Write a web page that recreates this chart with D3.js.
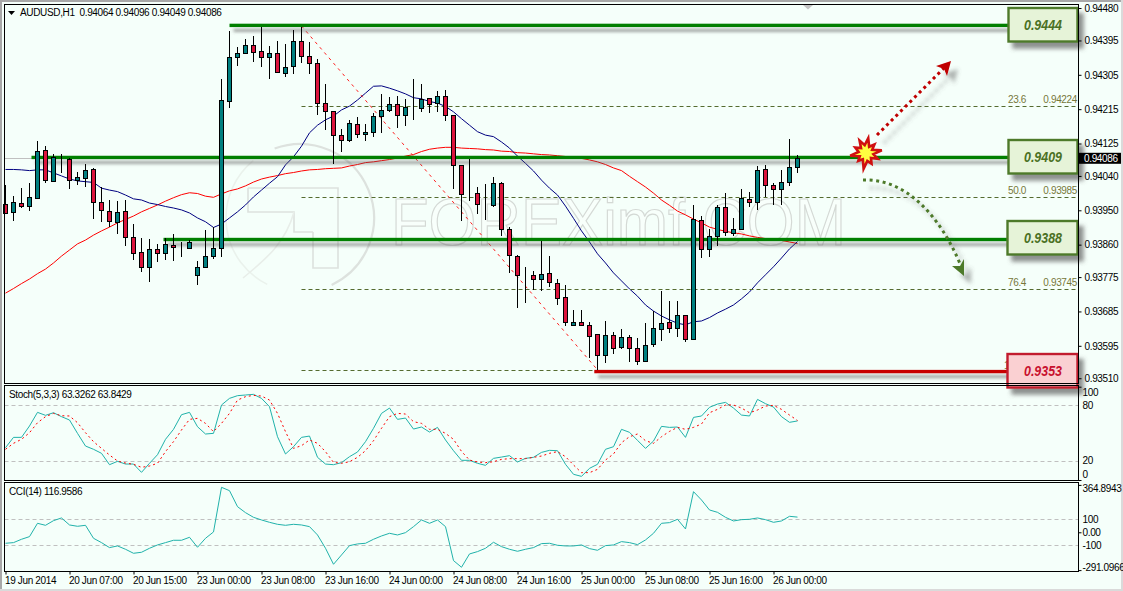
<!DOCTYPE html>
<html><head><meta charset="utf-8">
<script src="https://cdn.jsdelivr.net/npm/d3@7"></script>
<style>
html,body{margin:0;padding:0;background:#F5FFFA;overflow:hidden}
svg{display:block}
text{font-family:"Liberation Sans",Arial,sans-serif;font-size:10px;letter-spacing:-0.35px;fill:#000}
.domain{display:none}
</style></head><body>
<script>
const symbolTitle = "AUDUSD,H1  0.94064 0.94096 0.94049 0.94086";
const stochTitle = "Stoch(5,3,3) 63.3262 63.8429";
const cciTitle = "CCI(14) 116.9586";
const open = [0.93966,0.93945,0.93968,0.93962,0.93983,0.94107,0.94027,0.94084,0.94084,0.94030,
0.94035,0.94057,0.93971,0.93947,0.93919,0.93947,0.93879,0.93840,0.93801,0.93848,
0.93837,0.93858,0.93853,0.93850,0.93780,0.93801,0.93830,0.93850,0.94236,0.94351,
0.94361,0.94382,0.94367,0.94351,0.94361,0.94309,0.94327,0.94393,0.94353,0.94335,
0.94230,0.94209,0.94146,0.94133,0.94175,0.94149,0.94154,0.94196,0.94212,0.94228,
0.94199,0.94218,0.94217,0.94243,0.94230,0.94249,0.94199,0.94068,0.93992,0.93995,
0.93963,0.93963,0.94021,0.93900,0.93830,0.93780,0.93780,0.93769,0.93785,0.93759,
0.93722,0.93649,0.93658,0.93649,0.93625,0.93570,0.93622,0.93591,0.93617,0.93588,
0.93554,0.93599,0.93638,0.93657,0.93641,0.93675,0.93612,0.93924,0.93848,0.93882,
0.93958,0.93890,0.93900,0.93979,0.93971,0.94057,0.94016,0.94005,0.94023,0.94064];
const close = [0.93944,0.93971,0.93962,0.93984,0.94105,0.94029,0.94090,0.94084,0.94030,0.94037,
0.94055,0.93971,0.93950,0.93921,0.93945,0.93879,0.93837,0.93801,0.93848,0.93837,
0.93861,0.93853,0.93853,0.93866,0.93801,0.93830,0.93850,0.94238,0.94351,0.94361,
0.94382,0.94364,0.94351,0.94361,0.94312,0.94325,0.94393,0.94353,0.94335,0.94230,
0.94209,0.94146,0.94133,0.94178,0.94149,0.94154,0.94196,0.94212,0.94228,0.94199,
0.94220,0.94218,0.94241,0.94228,0.94249,0.94199,0.94068,0.93992,0.93992,0.93966,
0.93963,0.94021,0.93900,0.93832,0.93780,0.93780,0.93769,0.93782,0.93761,0.93719,
0.93657,0.93657,0.93650,0.93620,0.93570,0.93622,0.93588,0.93617,0.93588,0.93554,
0.93596,0.93641,0.93654,0.93641,0.93675,0.93612,0.93926,0.93848,0.93882,0.93958,
0.93892,0.93900,0.93981,0.93971,0.94055,0.94016,0.94005,0.94023,0.94063,0.94086];
const high = [0.94016,0.93987,0.94008,0.94021,0.94131,0.94118,0.94098,0.94098,0.94087,0.94050,
0.94071,0.94060,0.94012,0.93977,0.93975,0.93977,0.93913,0.93877,0.93875,0.93861,
0.93877,0.93887,0.93866,0.93872,0.93817,0.93898,0.93905,0.94294,0.94420,0.94378,
0.94398,0.94406,0.94431,0.94380,0.94393,0.94385,0.94422,0.94431,0.94391,0.94346,
0.94281,0.94210,0.94162,0.94187,0.94195,0.94175,0.94205,0.94255,0.94246,0.94249,
0.94241,0.94293,0.94280,0.94243,0.94262,0.94264,0.94200,0.94069,0.94084,0.94010,
0.94018,0.94036,0.94023,0.93905,0.93832,0.93801,0.93790,0.93869,0.93830,0.93769,
0.93753,0.93689,0.93689,0.93657,0.93626,0.93660,0.93630,0.93638,0.93622,0.93615,
0.93654,0.93686,0.93739,0.93712,0.93712,0.93676,0.93964,0.93934,0.93900,0.93963,
0.93995,0.93929,0.94005,0.93997,0.94065,0.94068,0.94021,0.94056,0.94136,0.94096];
const low = [0.93942,0.93923,0.93957,0.93948,0.93980,0.94022,0.94025,0.94049,0.94007,0.94016,
0.94012,0.93928,0.93919,0.93907,0.93888,0.93857,0.93821,0.93789,0.93763,0.93815,
0.93821,0.93818,0.93828,0.93850,0.93755,0.93798,0.93822,0.93828,0.94219,0.94329,
0.94359,0.94339,0.94326,0.94295,0.94309,0.94300,0.94308,0.94336,0.94307,0.94200,
0.94160,0.94071,0.94103,0.94130,0.94140,0.94132,0.94143,0.94153,0.94208,0.94166,
0.94172,0.94187,0.94208,0.94204,0.94207,0.94183,0.94006,0.93922,0.93974,0.93940,
0.93925,0.93959,0.93883,0.93786,0.93695,0.93706,0.93741,0.93739,0.93748,0.93701,
0.93648,0.93649,0.93647,0.93562,0.93532,0.93551,0.93573,0.93587,0.93553,0.93545,
0.93554,0.93591,0.93608,0.93628,0.93617,0.93604,0.93612,0.93826,0.93828,0.93857,
0.93882,0.93882,0.93898,0.93958,0.93951,0.93984,0.93965,0.93965,0.94013,0.94049];
const maBlue = [0.94057,0.94057,0.94056,0.94054,0.94056,0.94056,0.94048,0.94040,0.94032,0.94027,
0.94025,0.94023,0.94008,0.94003,0.93999,0.93990,0.93980,0.93977,0.93969,0.93965,
0.93960,0.93956,0.93951,0.93943,0.93930,0.93920,0.93905,0.93914,0.93930,0.93946,
0.93964,0.93985,0.94003,0.94021,0.94038,0.94069,0.94090,0.94118,0.94153,0.94173,
0.94187,0.94197,0.94213,0.94223,0.94239,0.94257,0.94275,0.94276,0.94270,0.94263,
0.94255,0.94245,0.94242,0.94235,0.94231,0.94222,0.94208,0.94190,0.94173,0.94156,
0.94147,0.94143,0.94129,0.94113,0.94092,0.94073,0.94053,0.94029,0.94008,0.93990,
0.93961,0.93929,0.93896,0.93867,0.93836,0.93812,0.93786,0.93765,0.93744,0.93725,
0.93702,0.93686,0.93673,0.93663,0.93654,0.93650,0.93658,0.93660,0.93669,0.93681,
0.93691,0.93702,0.93718,0.93736,0.93760,0.93781,0.93802,0.93825,0.93849,0.93868];
const maRed = [0.93733,0.93745,0.93758,0.93770,0.93784,0.93796,0.93812,0.93830,0.93846,0.93862,
0.93872,0.93885,0.93896,0.93906,0.93917,0.93926,0.93935,0.93946,0.93955,0.93964,
0.93974,0.93983,0.93991,0.93996,0.93994,0.93987,0.93984,0.93993,0.94001,0.94006,
0.94014,0.94024,0.94032,0.94037,0.94041,0.94046,0.94049,0.94053,0.94056,0.94057,
0.94059,0.94060,0.94061,0.94066,0.94070,0.94075,0.94077,0.94080,0.94083,0.94087,
0.94092,0.94096,0.94104,0.94110,0.94113,0.94115,0.94115,0.94113,0.94112,0.94111,
0.94109,0.94108,0.94105,0.94104,0.94101,0.94100,0.94098,0.94096,0.94095,0.94093,
0.94091,0.94088,0.94086,0.94082,0.94077,0.94070,0.94061,0.94054,0.94039,0.94025,
0.94011,0.93995,0.93977,0.93963,0.93948,0.93938,0.93927,0.93917,0.93906,0.93900,
0.93895,0.93891,0.93888,0.93883,0.93879,0.93876,0.93874,0.93871,0.93867,0.93863];
const stochMain = [34.6,45.7,45.7,57.9,72.5,69.3,72.1,67.9,64.3,50,
36.4,32.9,28.6,16.4,20,17.1,17.1,8.2,17.9,27.1,
43.6,54.3,70,72.5,57.1,49.3,50,80.4,87.5,90.4,
91.1,91.8,87.5,78.6,46.4,27.9,35.7,45.7,47.1,24.3,
17.1,16.4,18.6,25,30,41.1,55.4,71.4,77.1,65,
66.4,54.6,56.8,51.4,56.4,42.9,31.4,21.1,21.1,17.9,
15.7,23.2,24.6,26.1,19.3,23.2,24.3,29.6,31.8,31.4,
16.8,6.1,3.9,12.5,16.8,32.9,35.7,54.3,51.1,42.5,
33.9,41.8,57.5,56.4,56.8,45.7,67.1,68.6,77.9,81.4,
83.2,77.1,69.6,68.6,86.4,81.8,78.2,67.9,61.8,63.3];
const stochSignal = [32.9,39.3,43.6,50.7,61.4,67.9,71.4,68.9,68.6,61.4,
50.7,41.1,33.9,26.8,20.4,18.2,16.8,13.6,15,17.9,
30.4,41.1,53.6,65,66.1,60.7,51.8,60.7,71.4,85.7,
89.3,90.7,90,85.7,71.4,51.8,33.9,36.8,42.9,39.3,
30.4,18.9,17.9,19.6,24.3,31.4,42.1,55.4,67.9,71.4,
70.7,62.5,60.7,54.3,54.3,50,43.6,30.7,21.4,19.3,
18.6,19.6,22.1,22.9,22.9,22.9,24.3,25.7,28.6,30.4,
25,16.1,7.9,7.9,11.4,21.4,27.9,40,46.4,49.3,
42.1,39.3,46.4,52.1,56.4,54.3,56.4,60,72.1,75.7,
80.4,80.4,77.1,72.1,75,79.3,80,75.7,69.6,63.8];
const cci = [-84.6,-79.5,-53.8,-33.3,69.2,53.8,89.7,110.3,56.4,46.2,
53.8,-46.2,-79.5,-117.9,-105.1,-130.8,-161.5,-153.8,-123.1,-97.4,
-79.5,-61.5,-61.5,-38.5,-115.4,-46.2,2.6,346.2,320.5,197.4,
151.3,115.4,94.9,76.9,61.5,53.8,61.5,56.4,43.6,-20.5,
-123.1,-246.2,-174.4,-102.6,-89.7,-84.6,-53.8,-28.2,-7.7,-20.5,
-2.6,43.6,94.9,69.2,94.9,43.6,-217.9,-269.2,-166.7,-148.7,
-123.1,-76.9,-110.3,-130.8,-146.2,-130.8,-117.9,-87.2,-84.6,-100,
-105.1,-105.1,-97.4,-125.6,-138.5,-102.6,-97.4,-71.8,-79.5,-94.9,
-59,-7.7,69.2,74.4,100,25.6,312.8,248.7,171.8,153.8,
115.4,87.2,97.4,100,110.3,97.4,76.9,87.2,123.1,117];
const timeLabels = ["19 Jun 2014","20 Jun 07:00","20 Jun 15:00","23 Jun 00:00","23 Jun 08:00","23 Jun 16:00","24 Jun 00:00","24 Jun 08:00","24 Jun 16:00","25 Jun 00:00","25 Jun 08:00","25 Jun 16:00","26 Jun 00:00"];
const priceTicks = [0.94480,0.94395,0.94305,0.94215,0.94125,0.94040,0.93950,0.93860,0.93775,0.93685,0.93595,0.93510];
const lastPrice = 0.94086;
const fibPct = ["23.6","50.0","76.4"];
const fibValue = [0.94224,0.93985,0.93745];
const fibLinePrice = [0.94224,0.93985,0.93745,0.93532];
const fibTrendPrice = [0.94433,0.93532];
const fibTrendBar = [37,74];
const levelLabel = ["0.9444","0.9409","0.9388","0.9353"];
const levelPrice = [0.94435,0.94089,0.93874,0.93528];
const levelStartBar = [28,3.25,19.75,73.6];
const stochTicks = [100,80,20,0];
const cciTicks = [364.8943,100,0,-100,-291.0966];

const W=1123,H=591, L=4.5,R=1078.5;
const svg=d3.select("body").append("svg").attr("width",W).attr("height",H);
const defs=svg.append("defs");
function shadow(id,dx,dy,blur,op){
  defs.append("filter").attr("id",id).attr("filterUnits","userSpaceOnUse").attr("x",0).attr("y",0).attr("width",W).attr("height",H)
   .append("feDropShadow").attr("dx",dx).attr("dy",dy).attr("stdDeviation",blur).attr("flood-color","#555").attr("flood-opacity",op);
}
shadow("sLine",4,5,1.4,0.5); shadow("sBox",5,6,2.2,0.65); shadow("sArrow",7,8,2.2,0.45);

const x=d3.scaleLinear().domain([0,99]).range([5.5,797.5]);
const y=d3.scaleLinear().domain([0.94501,0.93510]).range([0,378.24]);
const yS=d3.scaleLinear().domain([0,100]).range([480,386.7]);
const yC=d3.scaleLinear().domain([-291.0966,364.8943]).range([570.1,484.9]);
const idx=d3.range(open.length);
const crisp=v=>Math.round(v)+0.5;

// window frame
svg.append("rect").attr("width",W).attr("height",H).attr("fill","#F5FFFA");
svg.append("rect").attr("x",0).attr("y",0).attr("width",W).attr("height",2).attr("fill","#A8A8A8");
svg.append("rect").attr("x",0).attr("y",0).attr("width",2).attr("height",H).attr("fill","#A8A8A8");
svg.append("rect").attr("x",0).attr("y",589).attr("width",W).attr("height",2).attr("fill","#DADADA");
svg.append("rect").attr("x",1121).attr("y",0).attr("width",2).attr("height",H).attr("fill","#DADADA");

// watermark
const wm=svg.append("g").attr("fill","none").attr("stroke","#DDE2DE").attr("stroke-width",1.6);
wm.append("path").attr("d",d3.arc()({innerRadius:74,outerRadius:74,startAngle:-0.35,endAngle:2.7})).attr("transform","translate(300,218)").attr("stroke-width",2.2);
wm.append("path").attr("d",d3.arc()({innerRadius:74,outerRadius:74,startAngle:3.6,endAngle:5.6})).attr("transform","translate(300,218)").attr("stroke","#EAF2EC");
wm.append("path").attr("d","M248,188H338V268H313V232M248,188V212H294V232H313");
wm.append("path").attr("d","M243,278C262,262 285,245 294,212").attr("stroke","#E8EEE9");
svg.append("text").attr("x",391).attr("y",245).attr("textLength",455).attr("lengthAdjust","spacingAndGlyphs")
  .style("font-size","66px").style("letter-spacing","0").style("fill","#F8FFFB").style("stroke","#D4D9D5").style("stroke-width","1.2px").text("FOREXimf.COM");

// panels
const panelFrame=[[4,383],[385,480],[482,571]];

// moving averages
const maLine=d3.line().x((d,i)=>x(i)).y(d=>y(d));
svg.append("path").datum(maRed).attr("d",maLine).attr("fill","none").attr("stroke","#FF0000").attr("stroke-width",1);
svg.append("path").datum(maBlue).attr("d",maLine).attr("fill","none").attr("stroke","#000080").attr("stroke-width",1);

// bid line
svg.append("line").attr("x1",L).attr("x2",R).attr("y1",crisp(y(lastPrice))).attr("y2",crisp(y(lastPrice))).attr("stroke","#C0C0C0");

// fibonacci
const fibStartX=x(37);
svg.selectAll(".fib").data(fibLinePrice).join("line").attr("x1",fibStartX).attr("x2",R-1)
  .attr("y1",d=>crisp(y(d))).attr("y2",d=>crisp(y(d))).attr("stroke","#556B2F").attr("stroke-dasharray","4 3");
svg.selectAll(".fibp").data(fibPct).join("text").attr("x",1008).attr("y",(d,i)=>y(fibValue[i])-3).style("fill","#77773A").text(d=>d);
svg.selectAll(".fibv").data(fibValue).join("text").attr("x",1077).attr("text-anchor","end").attr("y",d=>y(d)-3).style("fill","#77773A").text(d=>d.toFixed(5));
svg.append("text").attr("x",1004).attr("y",369).style("fill","#77773A").text("1");
svg.append("line").attr("x1",x(fibTrendBar[0])).attr("y1",y(fibTrendPrice[0])).attr("x2",x(fibTrendBar[1])).attr("y2",y(fibTrendPrice[1]))
  .attr("stroke","#FF2020").attr("stroke-dasharray","3 4");

// level lines
const levelColor=["#008000","#008000","#008000","#C80000"];
svg.selectAll(".lvl").data(levelPrice).join("rect").attr("x",(d,i)=>x(levelStartBar[i])).attr("width",(d,i)=>1008-x(levelStartBar[i]))
  .attr("y",d=>y(d)-1.5).attr("height",3.4).attr("fill",(d,i)=>levelColor[i]).attr("filter","url(#sLine)");

// candles
const cg=svg.append("g");
const isUp=i=>close[i]>open[i], isDoji=i=>close[i]===open[i];
cg.selectAll(".wick").data(idx).join("line").attr("x1",i=>x(i)).attr("x2",i=>x(i))
  .attr("y1",i=>Math.round(y(high[i]))).attr("y2",i=>Math.round(y(low[i])))
  .attr("stroke","#000").attr("stroke-width",1);
cg.selectAll(".body").data(idx).join("rect")
  .attr("x",i=>x(i)-2).attr("width",4)
  .attr("y",i=>crisp(y(Math.max(open[i],close[i]))))
  .attr("height",i=>isDoji(i)?0:Math.max(1,crisp(y(Math.min(open[i],close[i])))-crisp(y(Math.max(open[i],close[i])))))
  .attr("fill",i=>isUp(i)?"#008080":"#DC143C").attr("stroke","#000").attr("stroke-width",1).attr("shape-rendering","crispEdges");

// level boxes
const boxStyle=[["#E6F3D8","#4E7A2A","#4A7023"],["#E6F3D8","#4E7A2A","#4A7023"],["#E6F3D8","#4E7A2A","#4A7023"],["#FAD0D2","#C21F2E","#C8102E"]];
levelLabel.forEach((t,i)=>{
  const boxTop=[8,140,221,354][i];
  svg.append("rect").attr("x",i<2?1008.5:1007.5).attr("y",boxTop).attr("width",i<2?69:70).attr("height",33.5)
    .attr("fill",boxStyle[i][0]).attr("stroke",boxStyle[i][1]).attr("stroke-width",2.4).attr("filter","url(#sBox)");
  svg.append("text").attr("x",1043).attr("y",boxTop+22).attr("text-anchor","middle").attr("textLength",38).attr("lengthAdjust","spacingAndGlyphs")
    .style("font-size","14.5px").style("letter-spacing","0").style("font-weight","bold").style("font-style","italic").style("fill",boxStyle[i][2]).text(t);
});

// arrows
const arrows=svg.append("g");
const redG=arrows.append("g").attr("filter","url(#sArrow)");
redG.append("path").attr("d","M877,135L944,68").attr("fill","none").attr("stroke","#C00000").attr("stroke-width",3).attr("stroke-dasharray","3 3.6");
redG.append("path").attr("d","M951,61L936,66L944,69L947,76Z").attr("fill","#C00000");
const grnG=arrows.append("g").attr("filter","url(#sArrow)");
grnG.append("path").attr("d","M863,180C905,178 940,215 961,266").attr("fill","none").attr("stroke","#4E7A2A").attr("stroke-width",3).attr("stroke-dasharray","3 3.6");
grnG.append("path").attr("d","M964,276L952,266L960,266L964,259Z").attr("fill","#4E7A2A");
// burst
const burstR=[15,7,12,7,16,7.5,13,7,12,8,16,7,11,7,16,7.5,12,7,14,8];
const burst=d3.lineRadial().curve(d3.curveLinearClosed).angle((d,i)=>i/burstR.length*2*Math.PI+0.15).radius(d=>d);
svg.append("path").datum(burstR).attr("d",burst).attr("transform","translate(866,153)").attr("fill","#FFFF40").attr("stroke","#D01010").attr("stroke-width",2.6);

// indicator lines
const stochLine=d3.line().x((d,i)=>x(i)).y(d=>yS(d));
[80,20].forEach(v=>svg.append("line").attr("x1",L).attr("x2",R).attr("y1",crisp(yS(v))).attr("y2",crisp(yS(v))).attr("stroke","#C0C0C0").attr("stroke-dasharray","4 3"));
svg.append("path").datum(stochMain).attr("d",stochLine).attr("fill","none").attr("stroke","#20B2AA");
svg.append("path").datum(stochSignal).attr("d",stochLine).attr("fill","none").attr("stroke","#FF0000").attr("stroke-dasharray","2 3");
const cciLine=d3.line().x((d,i)=>x(i)).y(d=>yC(d));
[100,-100].forEach(v=>svg.append("line").attr("x1",L).attr("x2",R).attr("y1",crisp(yC(v))).attr("y2",crisp(yC(v))).attr("stroke","#C0C0C0").attr("stroke-dasharray","4 3"));
svg.append("path").datum(cci).attr("d",cciLine).attr("fill","none").attr("stroke","#20B2AA");

// frames
panelFrame.forEach(([a,b])=>svg.append("rect").attr("x",L).attr("y",a+0.5).attr("width",R-L).attr("height",b-a).attr("fill","none").attr("stroke","#000"));

// axes
const pAxis=svg.append("g").attr("transform",`translate(${R},0)`).call(d3.axisRight(y).tickValues(priceTicks).tickFormat(d=>d.toFixed(5)).tickSize(3).tickPadding(3));
const sAxis=svg.append("g").attr("transform",`translate(${R},0)`).call(d3.axisRight(yS).tickValues(stochTicks).tickFormat(d=>d).tickSize(3).tickPadding(1));
sAxis.selectAll("text").attr("dy",d=>d===100?"0.9em":d===0?"-0.3em":d===80?"0.3em":"0.25em");
sAxis.selectAll("line").attr("stroke-opacity",d=>(d===100||d===0)?1:0);
const cAxis=svg.append("g").attr("transform",`translate(${R},0)`).call(d3.axisRight(yC).tickValues(cciTicks).tickFormat(d=>d===0?"0.00":Number.isInteger(d)?d:String(d)).tickSize(3).tickPadding(1));
cAxis.selectAll("text").attr("dy",d=>d===364.8943?"0.65em":d===-291.0966?"0.0em":"0.32em");
cAxis.selectAll("line").attr("stroke-opacity",d=>Math.abs(d)===100?0:1);
const tAxis=svg.append("g").attr("transform","translate(0,571.5)").call(d3.axisBottom(x).tickValues(timeLabels.map((d,i)=>i*8)).tickFormat((d,i)=>timeLabels[i]).tickSize(3).tickPadding(2));
tAxis.selectAll("text").attr("text-anchor","start").attr("x",-1);
[pAxis,sAxis,cAxis,tAxis].forEach(g=>g.selectAll("text").style("font-family",'"Liberation Sans",Arial,sans-serif').style("font-size","10px"));
[pAxis,sAxis,cAxis,tAxis].forEach(g=>g.selectAll("line").attr("stroke","#000"));

// last price tag
svg.append("rect").attr("x",1079).attr("y",y(lastPrice)-5.6).attr("width",42).attr("height",11).attr("fill","#000");
svg.append("text").attr("x",1084).attr("y",y(lastPrice)+3.6).style("fill","#fff").text(lastPrice.toFixed(5));

// titles
svg.append("path").attr("d","M8,11H15L11.5,15Z").attr("fill","#000");
svg.append("path").attr("d","M803,5H813L808,9.5Z").attr("fill","#C4C4C4");
svg.append("text").attr("x",20).attr("y",16).attr("xml:space","preserve").style("white-space","pre").text(symbolTitle);
svg.append("text").attr("x",9).attr("y",398).text(stochTitle);
svg.append("text").attr("x",9).attr("y",495).text(cciTitle);
</script>
</body></html>
